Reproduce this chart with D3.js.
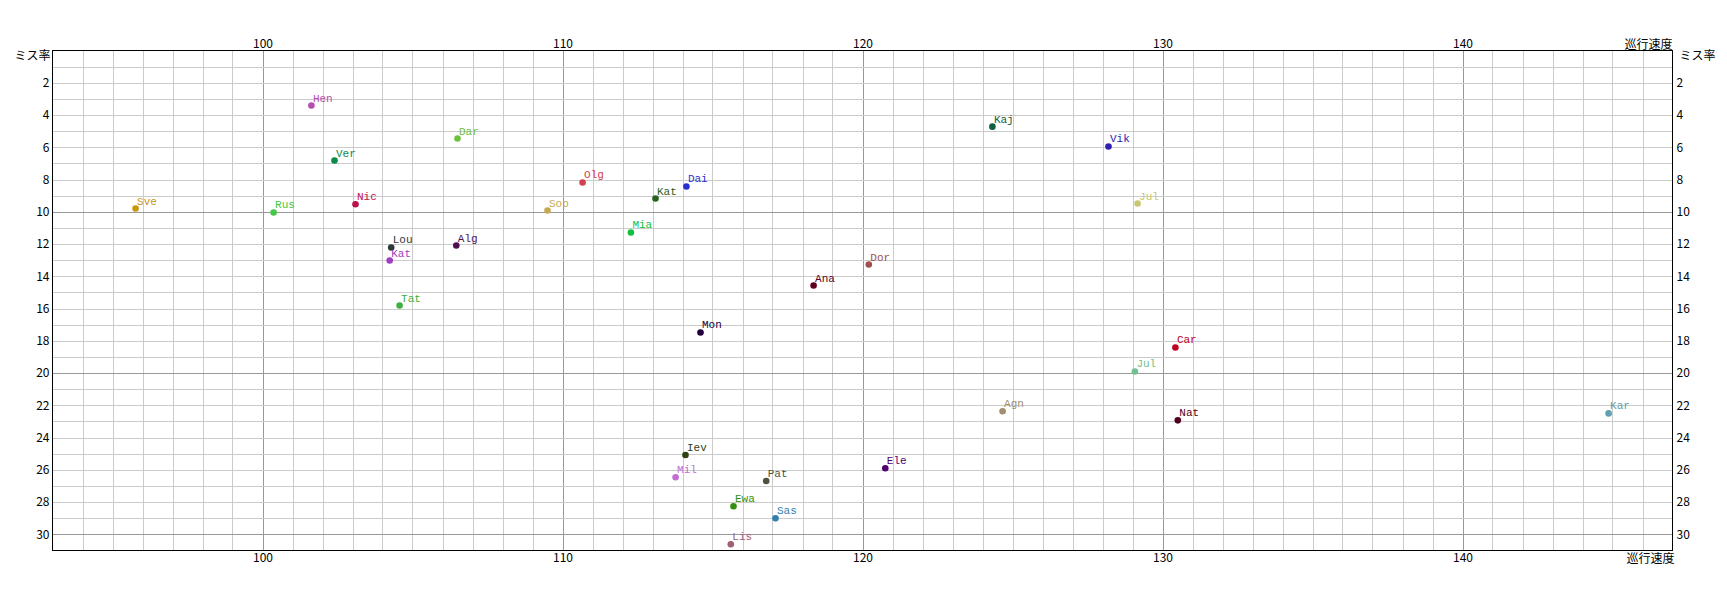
<!DOCTYPE html>
<html><head><meta charset="utf-8">
<script src="https://cdn.jsdelivr.net/npm/d3@7"></script>
<style>
html,body{margin:0;padding:0;background:#fff;}
svg{display:block;}
</style></head>
<body>
<svg id="chart" width="1727" height="600"></svg>
<script>
const names = ["Sve","Rus","Hen","Ver","Nic","Dar","Olg","Dai","Kat","Sop","Kaj","Vik","Jul","Lou","Kat","Alg","Tat","Mia","Dor","Ana","Mon","Car","Jul","Agn","Nat","Kar","Iev","Ele","Mil","Pat","Ewa","Sas","Lis"];
const speed = [95.77,100.37,101.63,102.40,103.10,106.50,110.67,114.13,113.10,109.50,124.33,128.20,129.17,104.29,104.24,106.46,104.57,112.28,120.21,118.37,114.60,130.43,129.08,124.67,130.51,144.87,114.10,120.76,113.77,116.79,115.70,117.10,115.61];
const missRate = [9.80,10.04,3.41,6.82,9.53,5.46,8.18,8.43,9.18,9.92,4.72,5.95,9.49,12.21,13.02,12.09,15.81,11.28,13.27,14.57,17.48,18.41,19.90,22.37,22.93,22.50,25.08,25.90,26.46,26.69,28.26,29.00,30.61];
const colors = ["#c9960c","#44c844","#b84db0","#0a8a4a","#c0104a","#70c040","#d04050","#2a30d0","#2a6020","#c8a850","#106040","#3020b0","#c8c870","#2a3a3a","#a040c0","#501050","#40b040","#10c040","#a05050","#600020","#200040","#c00020","#70c090","#a09070","#500020","#60a0b0","#304010","#500070","#c070d0","#505040","#309010","#3080b0","#a06070"];
const xTicks = [100,110,120,130,140];
const yTicks = [2,4,6,8,10,12,14,16,18,20,22,24,26,28,30];
const xTitle = "巡行速度";
const yTitle = "ミス率";

const svg = d3.select("#chart");
const x = d3.scaleLinear().domain([93,147]).range([52.5,1672.5]);
const y = d3.scaleLinear().domain([0,31]).range([50.5,550.5]);
const tickFont = "'Noto Sans CJK JP', sans-serif";

// grid
const g = svg.append("g");
const xMinor = d3.range(94,147);
const yMinor = d3.range(1,31);
g.selectAll("line.vx").data(xMinor).join("line")
  .attr("x1", d=>Math.round(x(d))+0.5).attr("x2", d=>Math.round(x(d))+0.5)
  .attr("y1", y(0)).attr("y2", y(31))
  .attr("stroke", d=> d%10===0 ? "#999" : "#cbcbcb").attr("stroke-width",1);
g.selectAll("line.hy").data(yMinor).join("line")
  .attr("y1", d=>Math.round(y(d))+0.5).attr("y2", d=>Math.round(y(d))+0.5)
  .attr("x1", x(93)).attr("x2", x(147))
  .attr("stroke", d=> d%10===0 ? "#999" : "#cbcbcb").attr("stroke-width",1);

// frame
svg.append("rect").attr("x",x(93)).attr("y",y(0)).attr("width",x(147)-x(93)).attr("height",y(31)-y(0))
  .attr("fill","none").attr("stroke","#000").attr("stroke-width",1);

function styleAxis(sel){
  sel.select(".domain").remove();
  sel.selectAll(".tick line").remove();
  sel.selectAll("text").attr("font-family",tickFont).attr("font-size","12px").attr("fill","#000");
}
svg.append("g").attr("transform",`translate(0,${y(0)})`)
  .call(d3.axisTop(x).tickValues(xTicks).tickSize(0).tickPadding(3)).call(styleAxis);
svg.append("g").attr("transform",`translate(0,${y(31)})`)
  .call(d3.axisBottom(x).tickValues(xTicks).tickSize(0).tickPadding(3)).call(styleAxis);
svg.append("g").attr("transform",`translate(${x(93)},0)`)
  .call(d3.axisLeft(y).tickValues(yTicks).tickSize(0).tickPadding(3)).call(styleAxis);
svg.append("g").attr("transform",`translate(${x(147)},0)`)
  .call(d3.axisRight(y).tickValues(yTicks).tickSize(0).tickPadding(4)).call(styleAxis);

// axis titles
svg.append("text").text(yTitle).attr("x",x(93)-2).attr("y",y(0)+9).attr("text-anchor","end")
  .attr("font-family",tickFont).attr("font-size","12px");
svg.append("text").text(yTitle).attr("x",x(147)+7).attr("y",y(0)+9).attr("text-anchor","start")
  .attr("font-family",tickFont).attr("font-size","12px");
svg.append("text").text(xTitle).attr("x",x(147)).attr("y",y(0)-2).attr("text-anchor","end")
  .attr("font-family",tickFont).attr("font-size","12px");
svg.append("text").text(xTitle).attr("x",x(147)+2).attr("y",y(31)+12).attr("text-anchor","end")
  .attr("font-family",tickFont).attr("font-size","12px");

// points
const data = names.map((n,i)=>({name:n, sx:speed[i], my:missRate[i], c:colors[i]}));
const pts = svg.append("g");
pts.selectAll("circle").data(data).join("circle")
  .attr("cx",d=>x(d.sx)).attr("cy",d=>y(d.my)).attr("r",3.3).attr("fill",d=>d.c);
pts.selectAll("text").data(data).join("text")
  .attr("x",d=>x(d.sx)+1.5).attr("y",d=>y(d.my)-4)
  .attr("fill",d=>d.c).attr("font-family","'Liberation Mono', monospace").attr("font-size","11px")
  .text(d=>d.name);
</script>
</body></html>
